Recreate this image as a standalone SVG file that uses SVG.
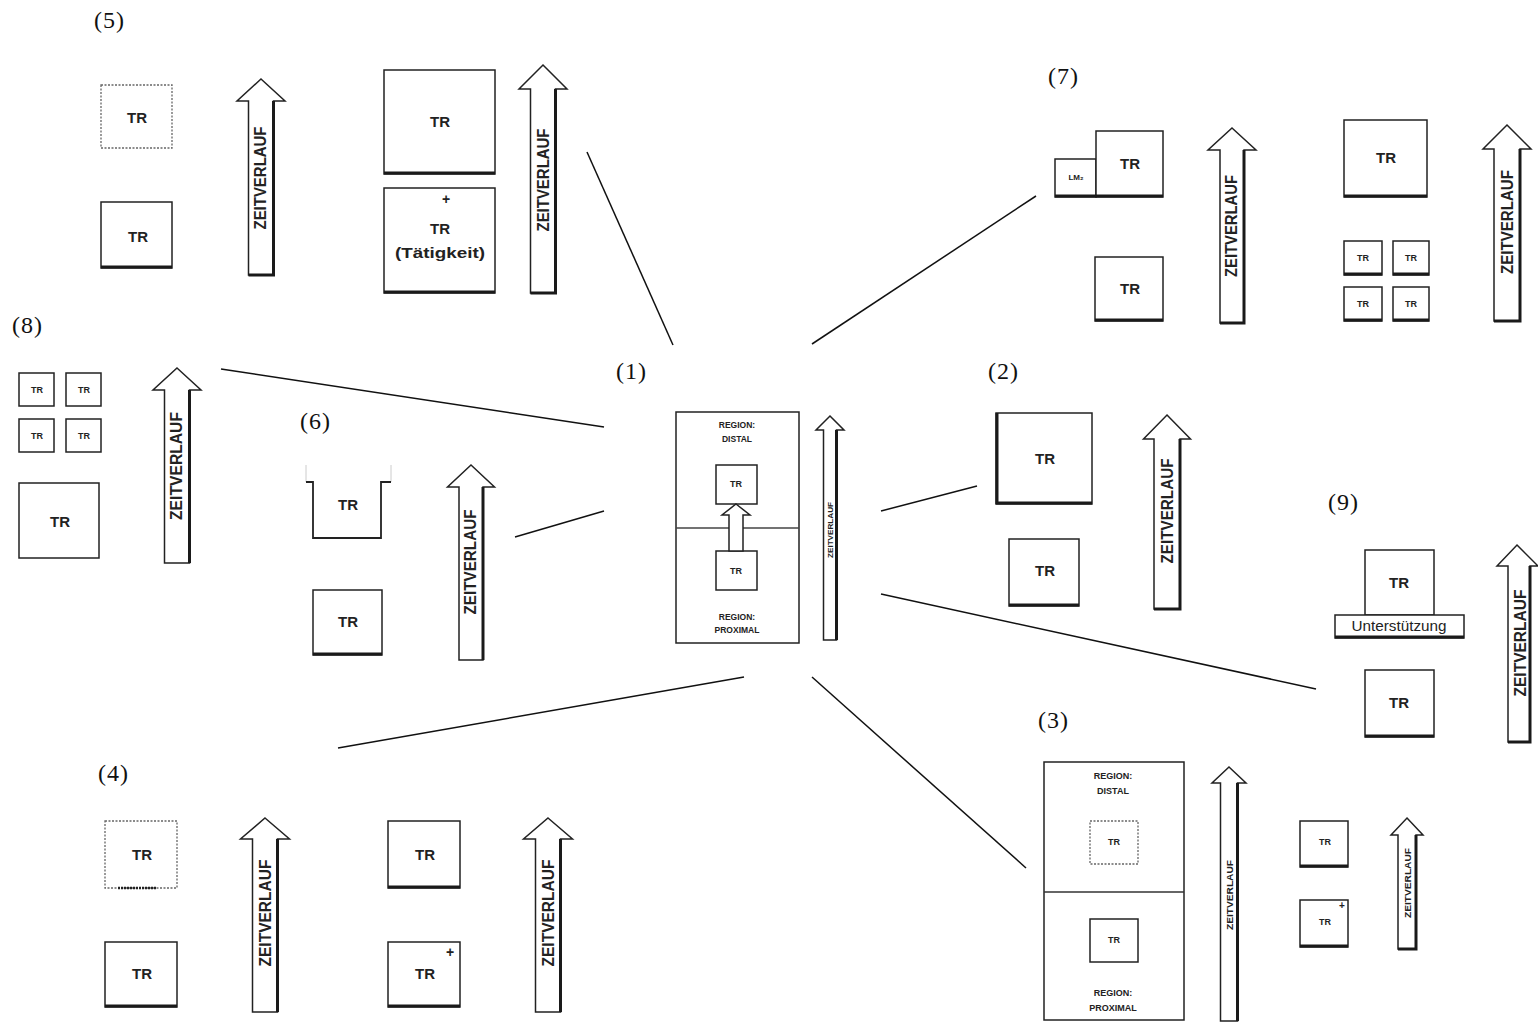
<svg xmlns="http://www.w3.org/2000/svg" width="1538" height="1022" viewBox="0 0 1538 1022">
<style>
.bg{fill:#fff}
.box{fill:#fff;stroke:#222;stroke-width:1.5}
.dot{fill:#fff;stroke:#666;stroke-width:1.3;stroke-dasharray:2 1.5}
.sh{fill:none;stroke:#1a1a1a;stroke-width:3}
.arr{fill:#fff;stroke:#222;stroke-width:1.5;stroke-linejoin:miter}
.con{stroke:#111;stroke-width:1.5;fill:none}
.tr{font-family:"Liberation Sans",Arial,sans-serif;font-weight:bold;text-anchor:middle;fill:#222}
.num{font-family:"Liberation Serif","Times New Roman",serif;font-size:24px;letter-spacing:1px;fill:#111}
.zv{font-family:"Liberation Sans",Arial,sans-serif;font-weight:bold;text-anchor:middle;fill:#222}
</style>
<rect class="bg" x="0" y="0" width="1538" height="1022"/>

<g id="connectors">
<line class="con" x1="587" y1="152" x2="673" y2="345"/>
<line class="con" x1="812" y1="344" x2="1036" y2="196"/>
<line class="con" x1="221" y1="369" x2="604" y2="427"/>
<line class="con" x1="515" y1="537" x2="604" y2="511"/>
<line class="con" x1="881" y1="511" x2="977" y2="486"/>
<line class="con" x1="881" y1="594" x2="1316" y2="689"/>
<line class="con" x1="812" y1="677" x2="1026" y2="868"/>
<line class="con" x1="744" y1="677" x2="338" y2="748"/>
</g>

<!-- (5) -->
<g id="node5">
<text class="num" x="94" y="28">(5)</text>
<rect class="dot" x="101" y="85" width="71" height="63"/>
<text class="tr" x="137" y="122.5" font-size="15">TR</text>
<rect class="box" x="101" y="202" width="71" height="66"/>
<line class="sh" x1="101" y1="267" x2="172" y2="267"/>
<text class="tr" x="138" y="242" font-size="15">TR</text>
<polygon class="arr" points="261,79 285,101 273.5,101 273.5,275 248.5,275 248.5,101 237,101"/>
<polyline class="sh" points="273.5,101 273.5,275 248.5,275"/>
<text class="zv" transform="translate(260,178) rotate(-90)" y="6" font-size="17" textLength="103" lengthAdjust="spacingAndGlyphs">ZEITVERLAUF</text>
<rect class="box" x="384" y="70" width="111" height="104"/>
<line class="sh" x1="384" y1="173" x2="495" y2="173"/>
<text class="tr" x="440" y="127" font-size="15">TR</text>
<rect class="box" x="384" y="188" width="111" height="105"/>
<line class="sh" x1="384" y1="292" x2="495" y2="292"/>
<text class="tr" x="446" y="204" font-size="14">+</text>
<text class="tr" x="440" y="234" font-size="15">TR</text>
<text class="tr" x="440" y="258" font-size="15" textLength="90" lengthAdjust="spacingAndGlyphs">(Tätigkeit)</text>
<polygon class="arr" points="543,65 567,89 555.5,89 555.5,293 530.5,293 530.5,89 519,89"/>
<polyline class="sh" points="555.5,89 555.5,293 530.5,293"/>
<text class="zv" transform="translate(543,180) rotate(-90)" y="6" font-size="17" textLength="103" lengthAdjust="spacingAndGlyphs">ZEITVERLAUF</text>
</g>

<!-- (7) -->
<g id="node7">
<text class="num" x="1048" y="84">(7)</text>
<rect class="box" x="1055" y="159" width="41" height="38"/>
<text class="tr" x="1076" y="180" font-size="8">LM₂</text>
<rect class="box" x="1096" y="131" width="67" height="66"/>
<line class="sh" x1="1055" y1="196" x2="1163" y2="196"/>
<text class="tr" x="1130" y="169" font-size="15">TR</text>
<rect class="box" x="1095" y="257" width="68" height="64"/>
<line class="sh" x1="1095" y1="320" x2="1163" y2="320"/>
<text class="tr" x="1130" y="294" font-size="15">TR</text>
<polygon class="arr" points="1232,128 1256,150 1244,150 1244,323 1220,323 1220,150 1208,150"/>
<polyline class="sh" points="1244,150 1244,323 1220,323"/>
<text class="zv" transform="translate(1231,226) rotate(-90)" y="6" font-size="17" textLength="102" lengthAdjust="spacingAndGlyphs">ZEITVERLAUF</text>
<rect class="box" x="1344" y="120" width="83" height="77"/>
<line class="sh" x1="1344" y1="196" x2="1427" y2="196"/>
<text class="tr" x="1386" y="163" font-size="15">TR</text>
<rect class="box" x="1344" y="241" width="38" height="34"/>
<rect class="box" x="1393" y="241" width="36" height="34"/>
<rect class="box" x="1344" y="287" width="38" height="34"/>
<rect class="box" x="1393" y="287" width="36" height="34"/>
<line class="sh" x1="1344" y1="274" x2="1382" y2="274"/>
<line class="sh" x1="1393" y1="274" x2="1429" y2="274"/>
<line class="sh" x1="1344" y1="320" x2="1382" y2="320"/>
<line class="sh" x1="1393" y1="320" x2="1429" y2="320"/>
<text class="tr" x="1363" y="261" font-size="9">TR</text>
<text class="tr" x="1411" y="261" font-size="9">TR</text>
<text class="tr" x="1363" y="307" font-size="9">TR</text>
<text class="tr" x="1411" y="307" font-size="9">TR</text>
<polygon class="arr" points="1507,125 1531,149 1520,149 1520,321 1494,321 1494,149 1483,149"/>
<polyline class="sh" points="1520,149 1520,321 1494,321"/>
<text class="zv" transform="translate(1507,222) rotate(-90)" y="6" font-size="17" textLength="104" lengthAdjust="spacingAndGlyphs">ZEITVERLAUF</text>
</g>

<!-- (8) -->
<g id="node8">
<text class="num" x="12" y="333">(8)</text>
<rect class="box" x="19" y="373" width="35" height="33"/>
<rect class="box" x="66" y="373" width="35" height="33"/>
<rect class="box" x="19" y="419" width="35" height="33"/>
<rect class="box" x="66" y="419" width="35" height="33"/>
<text class="tr" x="37" y="393" font-size="9">TR</text>
<text class="tr" x="84" y="393" font-size="9">TR</text>
<text class="tr" x="37" y="439" font-size="9">TR</text>
<text class="tr" x="84" y="439" font-size="9">TR</text>
<rect class="box" x="19" y="483" width="80" height="75"/>
<text class="tr" x="60" y="527" font-size="15">TR</text>
<polygon class="arr" points="177,368 201,390 189.5,390 189.5,563 164.5,563 164.5,390 153,390"/>
<polyline class="sh" points="189.5,390 189.5,563"/>
<text class="zv" transform="translate(176,466) rotate(-90)" y="6" font-size="17" textLength="108" lengthAdjust="spacingAndGlyphs">ZEITVERLAUF</text>
</g>

<!-- (6) -->
<g id="node6">
<text class="num" x="300" y="429">(6)</text>
<path d="M306,465 V482 M391,465 V482" stroke="#ccc" stroke-width="1" fill="none"/>
<path d="M306,482 H313 V538 H381 V482 H391" fill="none" stroke="#222" stroke-width="1.8"/>
<text class="tr" x="348" y="510" font-size="15">TR</text>
<rect class="box" x="313" y="590" width="69" height="65"/>
<line class="sh" x1="313" y1="654" x2="382" y2="654"/>
<text class="tr" x="348" y="627" font-size="15">TR</text>
<polygon class="arr" points="471,465 494.5,487 483,487 483,660 459,660 459,487 447.5,487"/>
<polyline class="sh" points="483,487 483,660"/>
<text class="zv" transform="translate(470,562) rotate(-90)" y="6" font-size="17" textLength="105" lengthAdjust="spacingAndGlyphs">ZEITVERLAUF</text>
</g>

<!-- (1) -->
<g id="node1">
<text class="num" x="616" y="379">(1)</text>
<rect class="box" x="676" y="412" width="123" height="231"/>
<line x1="676" y1="528" x2="799" y2="528" stroke="#444" stroke-width="1.3"/>
<text class="tr" x="737" y="428" font-size="8.5">REGION:</text>
<text class="tr" x="737" y="442" font-size="8.5">DISTAL</text>
<rect class="box" x="716" y="465" width="41" height="39"/>
<text class="tr" x="736" y="487" font-size="9">TR</text>
<rect class="box" x="716" y="551" width="41" height="39"/>
<text class="tr" x="736" y="574" font-size="9">TR</text>
<polygon class="arr" points="736,504 750,515 743,515 743,551 729,551 729,515 722,515"/>
<text class="tr" x="737" y="620" font-size="8.5">REGION:</text>
<text class="tr" x="737" y="633" font-size="8.5">PROXIMAL</text>
<polygon class="arr" points="830,416 844,430 836.5,430 836.5,640 823.5,640 823.5,430 816,430"/>
<polyline class="sh" points="836.5,430 836.5,640"/>
<text class="zv" transform="translate(830,530) rotate(-90)" y="3" font-size="8" textLength="56" lengthAdjust="spacingAndGlyphs">ZEITVERLAUF</text>
</g>

<!-- (2) -->
<g id="node2">
<text class="num" x="988" y="379">(2)</text>
<rect class="box" x="996" y="413" width="96" height="91"/>
<line class="sh" x1="996" y1="503" x2="1092" y2="503"/>
<line class="sh" x1="997" y1="413" x2="997" y2="504"/>
<text class="tr" x="1045" y="464" font-size="15">TR</text>
<rect class="box" x="1009" y="539" width="70" height="67"/>
<line class="sh" x1="1009" y1="605" x2="1079" y2="605"/>
<text class="tr" x="1045" y="576" font-size="15">TR</text>
<polygon class="arr" points="1167,415 1190.5,439 1180,439 1180,609 1154,609 1154,439 1143.5,439"/>
<polyline class="sh" points="1180,439 1180,609 1154,609"/>
<text class="zv" transform="translate(1167,511) rotate(-90)" y="6" font-size="17" textLength="105" lengthAdjust="spacingAndGlyphs">ZEITVERLAUF</text>
</g>

<!-- (9) -->
<g id="node9">
<text class="num" x="1328" y="510">(9)</text>
<rect class="box" x="1365" y="550" width="69" height="65"/>
<text class="tr" x="1399" y="588" font-size="15">TR</text>
<rect class="box" x="1335" y="615" width="129" height="23"/>
<line class="sh" x1="1335" y1="637" x2="1464" y2="637"/>
<text x="1399" y="631" font-family="Liberation Sans, Arial, sans-serif" font-size="14" text-anchor="middle" fill="#222" textLength="95" lengthAdjust="spacingAndGlyphs">Unterstützung</text>
<rect class="box" x="1365" y="670" width="69" height="67"/>
<line class="sh" x1="1365" y1="736" x2="1434" y2="736"/>
<text class="tr" x="1399" y="708" font-size="15">TR</text>
<polygon class="arr" points="1517,545 1538,566 1530,566 1530,742 1508,742 1508,566 1497,566"/>
<polyline class="sh" points="1530,566 1530,742 1508,742"/>
<text class="zv" transform="translate(1520,643) rotate(-90)" y="6" font-size="17" textLength="107" lengthAdjust="spacingAndGlyphs">ZEITVERLAUF</text>
</g>

<!-- (3) -->
<g id="node3">
<text class="num" x="1038" y="728">(3)</text>
<rect class="box" x="1044" y="762" width="140" height="258"/>
<line x1="1044" y1="892" x2="1184" y2="892" stroke="#333" stroke-width="1.5"/>
<text class="tr" x="1113" y="779" font-size="9">REGION:</text>
<text class="tr" x="1113" y="794" font-size="9">DISTAL</text>
<rect class="dot" x="1090" y="821" width="48" height="43"/>
<text class="tr" x="1114" y="845" font-size="9">TR</text>
<rect class="box" x="1090" y="919" width="48" height="43"/>
<text class="tr" x="1114" y="943" font-size="9">TR</text>
<text class="tr" x="1113" y="996" font-size="9">REGION:</text>
<text class="tr" x="1113" y="1011" font-size="9">PROXIMAL</text>
<polygon class="arr" points="1229,767 1246,783 1237.5,783 1237.5,1021 1220.5,1021 1220.5,783 1212,783"/>
<polyline class="sh" points="1237.5,783 1237.5,1021"/>
<text class="zv" transform="translate(1229,895) rotate(-90)" y="3.5" font-size="9" textLength="70" lengthAdjust="spacingAndGlyphs">ZEITVERLAUF</text>
<rect class="box" x="1300" y="821" width="48" height="46"/>
<line class="sh" x1="1300" y1="866" x2="1348" y2="866"/>
<text class="tr" x="1325" y="845" font-size="9">TR</text>
<rect class="box" x="1300" y="900" width="48" height="47"/>
<line class="sh" x1="1300" y1="946" x2="1348" y2="946"/>
<text class="tr" x="1325" y="925" font-size="9">TR</text>
<text class="tr" x="1342" y="909" font-size="10">+</text>
<polygon class="arr" points="1407,818 1423,835 1416,835 1416,949 1398,949 1398,835 1391,835"/>
<polyline class="sh" points="1416,835 1416,949 1398,949"/>
<text class="zv" transform="translate(1407,883) rotate(-90)" y="3.5" font-size="9" textLength="70" lengthAdjust="spacingAndGlyphs">ZEITVERLAUF</text>
</g>

<!-- (4) -->
<g id="node4">
<text class="num" x="98" y="781">(4)</text>
<rect class="dot" x="105" y="821" width="72" height="67"/>
<line x1="118" y1="888" x2="156" y2="888" stroke="#222" stroke-width="2.5" stroke-dasharray="2 1"/>
<text class="tr" x="142" y="860" font-size="15">TR</text>
<rect class="box" x="105" y="942" width="72" height="65"/>
<line class="sh" x1="105" y1="1006" x2="177" y2="1006"/>
<text class="tr" x="142" y="979" font-size="15">TR</text>
<polygon class="arr" points="265,818 289.5,839 277.5,839 277.5,1012 252.5,1012 252.5,839 240.5,839"/>
<polyline class="sh" points="277.5,839 277.5,1012"/>
<text class="zv" transform="translate(265,913) rotate(-90)" y="6" font-size="17" textLength="107" lengthAdjust="spacingAndGlyphs">ZEITVERLAUF</text>
<rect class="box" x="388" y="821" width="72" height="67"/>
<line class="sh" x1="388" y1="887" x2="460" y2="887"/>
<text class="tr" x="425" y="860" font-size="15">TR</text>
<rect class="box" x="388" y="942" width="72" height="65"/>
<line class="sh" x1="388" y1="1006" x2="460" y2="1006"/>
<text class="tr" x="425" y="979" font-size="15">TR</text>
<text class="tr" x="450" y="957" font-size="14">+</text>
<polygon class="arr" points="548,818 572.5,839 560.5,839 560.5,1012 535.5,1012 535.5,839 523.5,839"/>
<polyline class="sh" points="560.5,839 560.5,1012"/>
<text class="zv" transform="translate(548,913) rotate(-90)" y="6" font-size="17" textLength="107" lengthAdjust="spacingAndGlyphs">ZEITVERLAUF</text>
</g>
</svg>
